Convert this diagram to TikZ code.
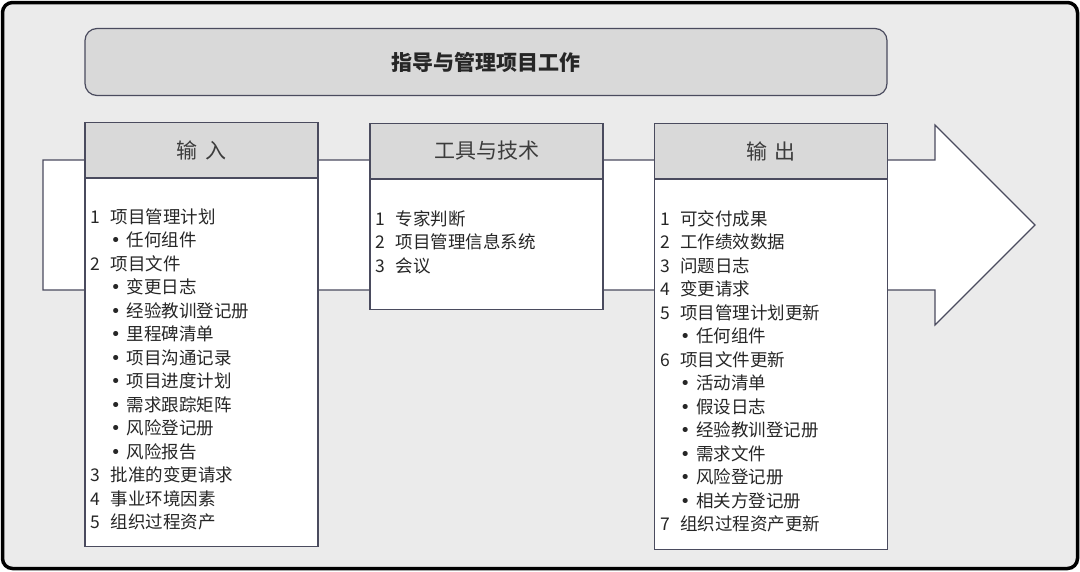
\documentclass[tikz,border=0pt]{standalone}
\usepackage{fontspec}
\setmainfont{Noto Sans CJK SC}
\newfontfamily\bulfont{DejaVu Sans}
\usetikzlibrary{positioning, calc}

\definecolor{framegray}{HTML}{EBEBEB}
\definecolor{headgray}{HTML}{D9D9D9}
\definecolor{edgeblue}{HTML}{4A4B5E}
\definecolor{textdark}{HTML}{262626}

% list helpers: numbered item and bullet sub-item
\newcommand{\numitem}[2]{\makebox[20pt][l]{#1}#2}
\newcommand{\bulitem}[1]{\hspace*{20pt}\makebox[16pt][l]{\bulfont •}#1}

\begin{document}
\begin{tikzpicture}[
  x=1pt, y=-1pt,
  every node/.style = {text=textdark},
  %-- block styles -------------------------------------------------------
  titlebox/.style = {draw=edgeblue, line width=1.2pt, rounded corners=12pt,
                     fill=headgray, minimum width=802pt, minimum height=67pt,
                     font=\fontsize{21}{24}\selectfont\bfseries},
  headbox/.style  = {draw=edgeblue, line width=1.2pt, fill=headgray,
                     minimum width=233pt, minimum height=55pt,
                     font=\fontsize{21}{24}\selectfont, text=textdark!90},
  bodybox/.style  = {draw=edgeblue, line width=1.2pt, fill=white,
                     minimum width=233pt, anchor=north},
  itemlist/.style = {anchor=north west, inner sep=0pt, align=left,
                     font=\fontsize{17.5}{23.5}\selectfont},
]

\useasboundingbox (0,0) rectangle (1080,571);

% ── outer frame ──────────────────────────────────────────────────────────────
\draw[line width=3.5pt, fill=framegray, rounded corners=10pt]
  (2.5,2.5) rectangle (1077.5,568.5);

% ── title ────────────────────────────────────────────────────────────────────
\node[titlebox] (title) at (486,62) {指导与管理项目工作};

% ── flow arrow behind the three blocks ───────────────────────────────────────
\coordinate (tail) at (43,225);
\coordinate (tip)  at (1035,225);
\draw[edgeblue, line width=1.2pt, fill=white]
  ($(tail)+(0,-65)$) -- (935,160) -- (935,125) -- (tip)
  -- (935,325) -- (935,290) -- ($(tail)+(0,65)$) -- cycle;

% ── headers ──────────────────────────────────────────────────────────────────
\node[headbox] (inhead)   at (201.5,150) {输\hspace{3pt} 入};
\node[headbox] (toolhead) at (486.5,151) {工具与技术};
\node[headbox] (outhead)  at (771,151)   {输\hspace{3pt} 出};

% ── bodies ───────────────────────────────────────────────────────────────────
\node[bodybox, minimum height=368pt] (inbody)   at (inhead.south)   {};
\node[bodybox, minimum height=130pt] (toolbody) at (toolhead.south) {};
\node[bodybox, minimum height=370pt] (outbody)  at (outhead.south)  {};

% ── lists ────────────────────────────────────────────────────────────────────
\node[itemlist] (inlist) at ($(inbody.north west)+(6,30)$) {%
  \numitem{1}{项目管理计划}\\
  \bulitem{任何组件}\\
  \numitem{2}{项目文件}\\
  \bulitem{变更日志}\\
  \bulitem{经验教训登记册}\\
  \bulitem{里程碑清单}\\
  \bulitem{项目沟通记录}\\
  \bulitem{项目进度计划}\\
  \bulitem{需求跟踪矩阵}\\
  \bulitem{风险登记册}\\
  \bulitem{风险报告}\\
  \numitem{3}{批准的变更请求}\\
  \numitem{4}{事业环境因素}\\
  \numitem{5}{组织过程资产}};

\node[itemlist] (toollist) at ($(toolbody.north west)+(6,31)$) {%
  \numitem{1}{专家判断}\\
  \numitem{2}{项目管理信息系统}\\
  \numitem{3}{会议}};

\node[itemlist] (outlist) at ($(outbody.north west)+(6,31)$) {%
  \numitem{1}{可交付成果}\\
  \numitem{2}{工作绩效数据}\\
  \numitem{3}{问题日志}\\
  \numitem{4}{变更请求}\\
  \numitem{5}{项目管理计划更新}\\
  \bulitem{任何组件}\\
  \numitem{6}{项目文件更新}\\
  \bulitem{活动清单}\\
  \bulitem{假设日志}\\
  \bulitem{经验教训登记册}\\
  \bulitem{需求文件}\\
  \bulitem{风险登记册}\\
  \bulitem{相关方登记册}\\
  \numitem{7}{组织过程资产更新}};

\end{tikzpicture}
\end{document}
